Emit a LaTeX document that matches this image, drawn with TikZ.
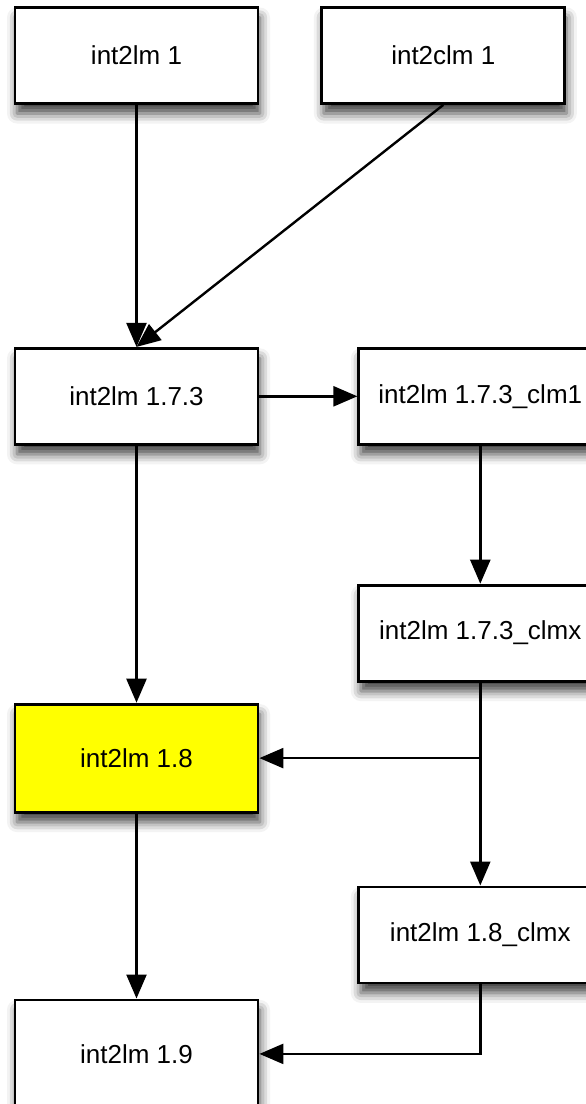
\documentclass[tikz,border=0pt]{standalone}
\usepackage{fontspec}
\setmainfont{Liberation Sans}
\usetikzlibrary{positioning,arrows.meta,shadows.blur}
\definecolor{hilite}{RGB}{255,255,0}

\begin{document}
\begin{tikzpicture}[
				version/.style={rectangle, draw=black, line width=1.4pt, fill=white, minimum width=121.5pt, minimum height=48pt, font=\fontsize{13}{15}\selectfont, blur shadow={shadow xshift=1pt, shadow yshift=-5pt, shadow blur radius=5pt, shadow opacity=75}},
				tall/.style={minimum height=54pt},
				current/.style={fill=hilite}
			]
			\useasboundingbox (0,0) rectangle (292.5pt,-552pt);
			\node[version] (lmone) at (68.25pt,-27.75pt) {int2lm 1};
			\node[version] (clmone) [right=30.5pt of lmone] {int2clm 1};
			\node[version] (lmsevthree) [below=121pt of lmone] {int2lm 1.7.3};
			\node[version] (clmone173) [right=49pt of lmsevthree] {int2lm 1.7.3\_clm1};
			\node[version] (clmx173) [below=69pt of clmone173] {int2lm 1.7.3\_clmx};
			\node[version, tall, current] (lmeight) [below=128.5pt of lmsevthree] {int2lm 1.8};
			\node[version] (clmx18) [below=101.5pt of clmx173] {int2lm 1.8\_clmx};
			\node[version, tall] (lmnine) [below=92.5pt of lmeight] {int2lm 1.9};
			\begin{scope}[line width=1.2pt, -{Triangle[length=12pt,width=10pt]}]
			\draw (lmone.south) -- (lmsevthree.north);
			\draw (clmone.south) -- (lmsevthree.north);
			\draw (lmsevthree.east) -- (clmone173.west);
			\draw (clmone173.south) -- (clmx173.north);
			\draw (clmx173.south) -- (clmx18.north);
			\draw (clmx173.south |- lmeight.east) -- (lmeight.east);
			\draw (lmsevthree.south) -- (lmeight.north);
			\draw (lmeight.south) -- (lmnine.north);
			\draw (clmx18.south) |- (lmnine.east);
			\end{scope}
			\end{tikzpicture}
\end{document}
